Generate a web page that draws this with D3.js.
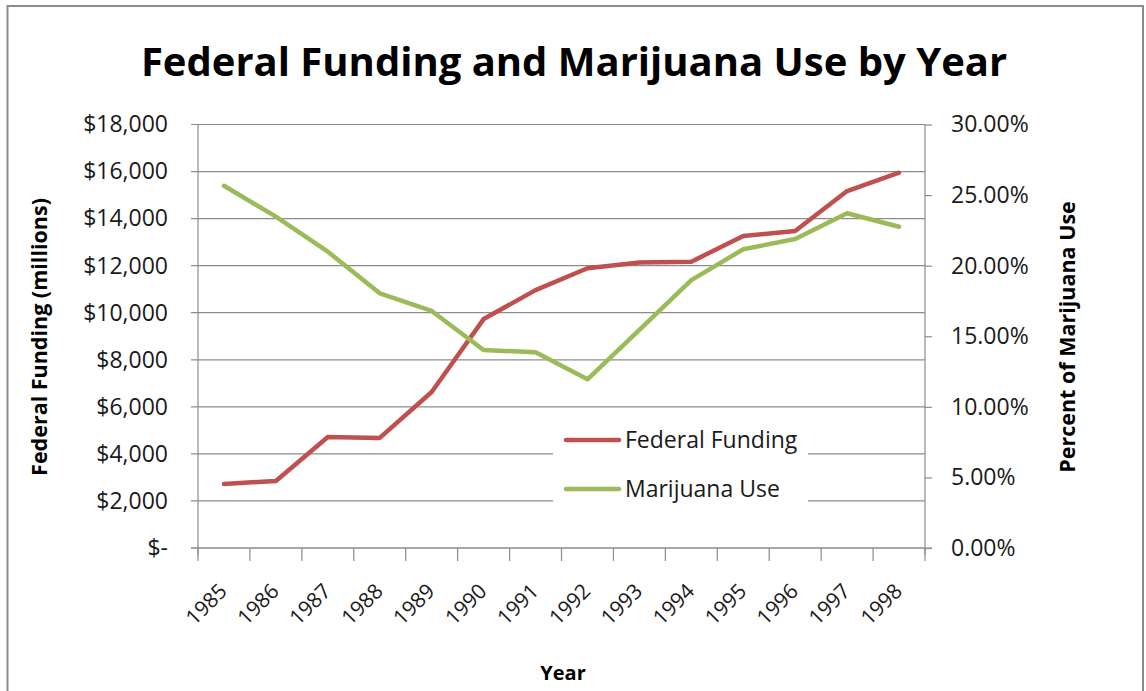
<!DOCTYPE html>
<html>
<head>
<meta charset="utf-8">
<script src="https://cdn.jsdelivr.net/npm/d3@7"></script>
<style>
  body { margin: 0; background: #fff; }
  svg { display: block; font-family: "Open Sans", "Noto Sans", sans-serif; }
</style>
</head>
<body>
<svg id="chart" width="1146" height="691"></svg>
<script>
const years = ['1985', '1986', '1987', '1988', '1989', '1990', '1991', '1992', '1993', '1994', '1995', '1996', '1997', '1998'];
const funding = [2720, 2850, 4720, 4680, 6630, 9730, 10960, 11890, 12130, 12170, 13260, 13470, 15170, 15950];
const marijuana = [25.66, 23.47, 20.99, 18.04, 16.79, 14.03, 13.86, 11.95, 15.46, 18.98, 21.16, 21.89, 23.71, 22.76];
const leftTicks = [0, 2000, 4000, 6000, 8000, 10000, 12000, 14000, 16000, 18000];
const rightTicks = [0, 5, 10, 15, 20, 25, 30];

const red = '#c0504d', green = '#9bbb59', axisGrey = '#8c8c8c', textCol = '#1a1a1a';
let plot = { left: 198, right: 925, top: 124.5, bottom: 548 };

const svg = d3.select('#chart');

// outer frame (open at the bottom, like the cropped original)
svg.append('path')
  .attr('d', 'M7.5,700 V6 H1143 V700')
  .attr('fill', 'none')
  .attr('stroke', axisGrey)
  .attr('stroke-width', 2);

let x = d3.scaleBand().domain(years).range([plot.left, plot.right]);
let yL = d3.scaleLinear().domain([0, 18000]).range([plot.bottom, plot.top]);
let yR = d3.scaleLinear().domain([0, 30]).range([plot.bottom, plot.top]);

// gridlines
svg.append('g')
  .selectAll('line')
  .data(leftTicks)
  .enter()
  .append('line')
  .attr('x1', plot.left - 7)
  .attr('x2', plot.right)
  .attr('y1', d => yL(d))
  .attr('y2', d => yL(d))
  .attr('stroke', axisGrey)
  .attr('stroke-width', 1.2);

// left axis
let fmtMoney = d => d === 0 ? '$-' : '$' + d3.format(',')(d);
svg.append('g')
  .attr('transform', `translate(${plot.left},0)`)
  .call(d3.axisLeft(yL).tickValues(leftTicks).tickFormat(fmtMoney).tickSize(7).tickPadding(23))
  .call(g => g.select('.domain').attr('d', `M0,${plot.top}V${plot.bottom + 7}`))
  .call(g => g.selectAll('.tick line').remove());

// right axis
svg.append('g')
  .attr('transform', `translate(${plot.right},0)`)
  .call(d3.axisRight(yR).tickValues(rightTicks).tickFormat(d => d.toFixed(2) + '%').tickSize(7).tickPadding(19))
  .call(g => g.select('.domain').attr('d', `M0,${plot.top}V${plot.bottom + 7}`));

// bottom axis (ticks between categories)
let xAxisG = svg.append('g')
  .attr('transform', `translate(0,${plot.bottom})`);
xAxisG.append('line')
  .attr('x1', plot.left - 7).attr('x2', plot.right + 7)
  .attr('stroke', axisGrey).attr('stroke-width', 1.2);
xAxisG.selectAll('line.tk')
  .data(years.concat(['end']))
  .enter()
  .append('line')
  .attr('class', 'tk')
  .attr('x1', (d, i) => plot.left + i * x.step())
  .attr('x2', (d, i) => plot.left + i * x.step())
  .attr('y1', 0).attr('y2', 13)
  .attr('stroke', axisGrey).attr('stroke-width', 1.2);
xAxisG.selectAll('text')
  .data(years)
  .enter()
  .append('text')
  .attr('transform', d => `translate(${x(d) + x.bandwidth() / 2 - 6},${34}) rotate(-45)`)
  .attr('text-anchor', 'end')
  .attr('dy', '0.7em')
  .attr('font-size', 21)
  .attr('fill', textCol)
  .text(d => d);

svg.selectAll('g').attr('font-family', null);
svg.selectAll('.domain').attr('stroke', axisGrey).attr('stroke-width', 1.2);
svg.selectAll('.tick line').attr('stroke', axisGrey).attr('stroke-width', 1.2);
svg.selectAll('.tick text').attr('font-size', 23).attr('fill', textCol);

// lines
let cx = d => x(d) + x.bandwidth() / 2;
let lineL = d3.line().x((d, i) => cx(years[i])).y(d => yL(d));
let lineR = d3.line().x((d, i) => cx(years[i])).y(d => yR(d));

// legend background covers gridlines
svg.append('rect')
  .attr('x', 553).attr('y', 418).attr('width', 255).attr('height', 92)
  .attr('fill', '#fff');

svg.append('path')
  .datum(funding)
  .attr('d', lineL)
  .attr('fill', 'none')
  .attr('stroke', red)
  .attr('stroke-width', 4.5)
  .attr('stroke-linejoin', 'round')
  .attr('stroke-linecap', 'round');

svg.append('path')
  .datum(marijuana)
  .attr('d', lineR)
  .attr('fill', 'none')
  .attr('stroke', green)
  .attr('stroke-width', 4.5)
  .attr('stroke-linejoin', 'round')
  .attr('stroke-linecap', 'round');

// legend
let legendItems = [{ name: 'Federal Funding', color: red, y: 440 }, { name: 'Marijuana Use', color: green, y: 489 }];
let legend = svg.selectAll('g.legend')
  .data(legendItems)
  .enter()
  .append('g')
  .attr('class', 'legend');
legend.append('line')
  .attr('x1', 566).attr('x2', 619)
  .attr('y1', d => d.y).attr('y2', d => d.y)
  .attr('stroke', d => d.color)
  .attr('stroke-width', 4.5)
  .attr('stroke-linecap', 'round');
legend.append('text')
  .attr('x', 625)
  .attr('y', d => d.y)
  .attr('dy', '0.35em')
  .attr('font-size', 23)
  .attr('fill', textCol)
  .text(d => d.name);

// titles
svg.append('text')
  .attr('x', 574).attr('y', 76)
  .attr('text-anchor', 'middle')
  .attr('font-size', 40)
  .attr('font-weight', 'bold')
  .attr('fill', '#000')
  .text('Federal Funding and Marijuana Use by Year');

svg.append('text')
  .attr('transform', 'translate(47,337) rotate(-90)')
  .attr('text-anchor', 'middle')
  .attr('font-size', 21.5)
  .attr('font-weight', 'bold')
  .attr('fill', '#000')
  .text('Federal Funding (millions)');

svg.append('text')
  .attr('transform', 'translate(1075,337) rotate(-90)')
  .attr('text-anchor', 'middle')
  .attr('font-size', 21.5)
  .attr('font-weight', 'bold')
  .attr('fill', '#000')
  .text('Percent of Marijuana Use');

svg.append('text')
  .attr('x', 563).attr('y', 680)
  .attr('text-anchor', 'middle')
  .attr('font-size', 20)
  .attr('font-weight', 'bold')
  .attr('fill', '#000')
  .text('Year');
</script>
</body>
</html>
